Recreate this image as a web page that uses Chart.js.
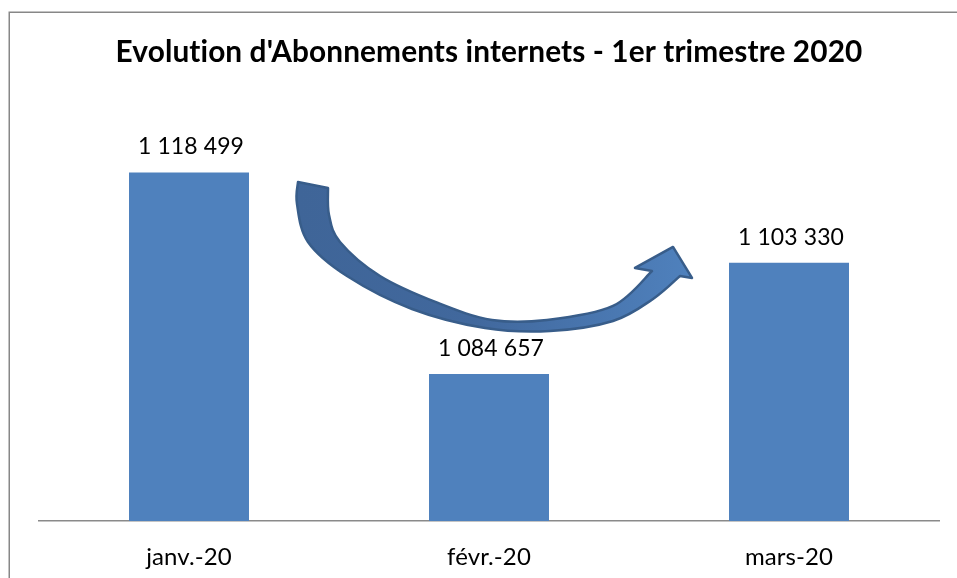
<!DOCTYPE html>
<html>
<head>
<meta charset="utf-8">
<script src="https://cdn.jsdelivr.net/npm/chart.js@4/dist/chart.umd.min.js"></script>
<style>
html,body{margin:0;padding:0;background:#fff;}
#wrap{position:relative;width:957px;height:578px;}
</style>
</head>
<body>
<div id="wrap"><canvas id="c" width="957" height="578"></canvas></div>
<script>
const titleText = "Evolution d'Abonnements internets - 1er trimestre 2020";
const categories = ["janv.-20", "févr.-20", "mars-20"];
const abonnements = [1118499, 1084657, 1103330];
const valueLabels = ["1 118 499", "1 084 657", "1 103 330"];

const FONT = "Lato, 'Open Sans', 'Liberation Sans', sans-serif";

const framePlugin = {
  id: 'frame',
  beforeDraw(chart) {
    const ctx = chart.ctx;
    ctx.save();
    ctx.fillStyle = '#ffffff';
    ctx.fillRect(0, 0, chart.width, chart.height);
    ctx.strokeStyle = '#878787';
    ctx.lineWidth = 1.5;
    ctx.beginPath();
    ctx.moveTo(9.25, chart.height);
    ctx.lineTo(9.25, 12.25);
    ctx.lineTo(chart.width, 12.25);
    ctx.stroke();
    ctx.restore();
    if ('letterSpacing' in ctx) ctx.letterSpacing = '0.1px';
  }
};

function spline(ctx, pts, first) {
  if (first) ctx.moveTo(pts[0][0], pts[0][1]); else ctx.lineTo(pts[0][0], pts[0][1]);
  for (let i = 0; i < pts.length - 1; i++) {
    const p0 = pts[Math.max(i - 1, 0)], p1 = pts[i], p2 = pts[i + 1], p3 = pts[Math.min(i + 2, pts.length - 1)];
    const c1x = p1[0] + (p2[0] - p0[0]) / 6, c1y = p1[1] + (p2[1] - p0[1]) / 6;
    const c2x = p2[0] - (p3[0] - p1[0]) / 6, c2y = p2[1] - (p3[1] - p1[1]) / 6;
    ctx.bezierCurveTo(c1x, c1y, c2x, c2y, p2[0], p2[1]);
  }
}

const arrowPlugin = {
  id: 'curvedArrow',
  afterDatasetsDraw(chart) {
    const ctx = chart.ctx;
    const ca = chart.chartArea;
    ctx.save();
    ctx.translate(ca.left - 39, ca.top - 104);
    const inner = [[328,188],[329,215],[340,242],[380,276],[438,303],[492,320],[547,320],[613,306],[652,271]];
    const outer = [[680,276],[653,299],[613,321],[550,331],[485,328],[412,309],[347,276],[308,242],[297,204],[298,182]];
    ctx.beginPath();
    ctx.moveTo(298,182);
    spline(ctx, inner, false);
    ctx.lineTo(635,268);
    ctx.lineTo(673,247);
    ctx.lineTo(692,278);
    spline(ctx, outer, false);
    ctx.closePath();
    const g = ctx.createLinearGradient(297, 0, 692, 0);
    g.addColorStop(0, '#3F6598');
    g.addColorStop(0.45, '#41689D');
    g.addColorStop(1, '#4F81BD');
    ctx.fillStyle = g;
    ctx.fill();
    ctx.strokeStyle = '#385D8A';
    ctx.lineWidth = 2.5;
    ctx.lineJoin = 'round';
    ctx.stroke();
    ctx.restore();
  }
};

const valueLabelPlugin = {
  id: 'valueLabels',
  afterDatasetsDraw(chart) {
    const ctx = chart.ctx;
    const meta = chart.getDatasetMeta(0);
    ctx.save();
    ctx.font = "23px " + FONT;
    ctx.fillStyle = '#000000';
    ctx.textAlign = 'center';
    ctx.textBaseline = 'alphabetic';
    meta.data.forEach((el, i) => {
      ctx.fillText(valueLabels[i], el.x + 2, el.y - 18);
    });
    ctx.restore();
  }
};

new Chart(document.getElementById('c'), {
  type: 'bar',
  data: {
    labels: categories,
    datasets: [{
      data: abonnements,
      backgroundColor: '#4F81BD',
      borderWidth: 0,
      categoryPercentage: 1.0,
      barPercentage: 0.4
    }]
  },
  options: {
    responsive: false,
    animation: false,
    devicePixelRatio: 1,
    layout: { padding: { left: 39, right: 18, top: 0, bottom: 0 } },
    plugins: {
      legend: { display: false },
      tooltip: { enabled: false },
      title: {
        display: true,
        text: titleText,
        color: '#000000',
        font: { family: FONT, size: 29.8, weight: 'bold', lineHeight: 1.2 },
        padding: { top: 35, bottom: 33.2 }
      }
    },
    scales: {
      x: {
        grid: { display: false, drawTicks: false },
        border: { display: true, color: '#8a8a8a', width: 1.5 },
        ticks: { color: '#000000', font: { family: FONT, size: 24 }, padding: 22 },
        afterFit(scale) { scale.height = 57; }
      },
      y: {
        display: false,
        min: 1060000,
        max: 1130000
      }
    }
  },
  plugins: [framePlugin, arrowPlugin, valueLabelPlugin]
});
</script>
</body>
</html>
